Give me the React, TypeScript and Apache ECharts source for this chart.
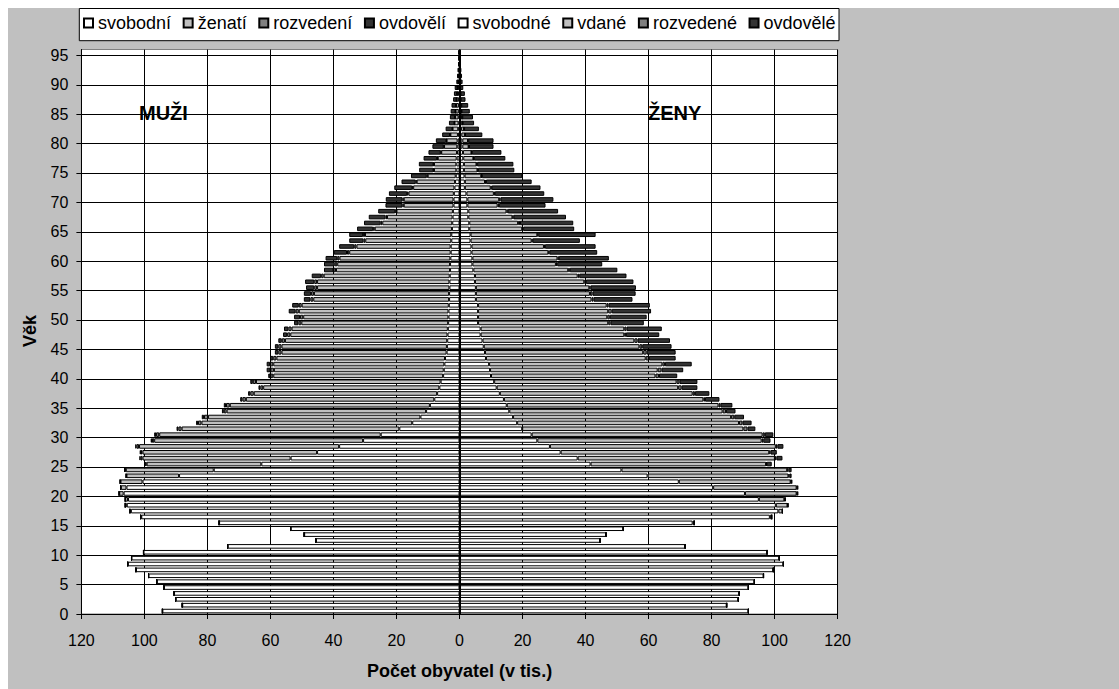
import React, { useEffect, useRef } from "react";
import * as echarts from "echarts";

// ---- categories (age 0..95) ----
const ages: string[] = Array.from({ length: 96 }, (_, i) => String(i));

// ---- legend names ----
const seriesNames = ["svobodní", "ženatí", "rozvedení", "ovdovělí", "svobodné", "vdané", "rozvedené", "ovdovělé"];

// ---- MEN (thousands), index = age ----
const menSingle = [
  94.3, 88.0, 90.1, 90.6, 93.8, 96.1, 98.7, 102.7, 105.3, 104.1,
  100.3, 73.6, 45.6, 49.3, 53.6, 76.3, 101.0, 104.3, 105.6, 105.2,
  106.6, 105.7, 100.6, 89.0, 78.0, 62.9, 53.6, 45.2, 38.2, 30.6,
  25.0, 19.1, 15.0, 12.4, 10.6, 9.4, 8.0, 7.1, 6.4, 6.0,
  5.2, 5.0, 4.8, 4.6, 4.1, 4.0, 3.9, 3.8, 3.7, 3.6,
  3.5, 3.5, 3.4, 3.3, 3.3, 3.2, 3.2, 3.1, 3.0, 3.0,
  2.9, 2.8, 2.8, 2.6, 2.6, 2.4, 2.3, 2.2, 2.1, 1.9,
  1.9, 1.8, 1.6, 1.4, 1.2, 1.0, 1.0, 0.9, 0.8, 0.7,
  0.6, 0.5, 0.4, 0.3, 0.3, 0.25, 0.2, 0.2, 0.15, 0.1,
  0.1, 0.08, 0.06, 0.04, 0.03, 0.03,
];
const menMarried = [
  0, 0, 0, 0, 0, 0, 0, 0, 0, 0,
  0, 0, 0, 0, 0, 0, 0.2, 0.3, 0.5, 0.9,
  1.4, 1.8, 7.0, 16.7, 27.9, 36.4, 47.0, 55.4, 63.5, 66.3,
  70.3, 69.1, 66.9, 67.4, 63.3, 63.5, 59.8, 58.2, 55.9, 58.6,
  53.9, 53.9, 54.3, 53.5, 52.4, 52.5, 51.5, 49.9, 49.6, 46.6,
  46.1, 47.5, 46.7, 43.1, 42.9, 42.0, 42.0, 40.0, 36.2, 35.8,
  35.2, 32.2, 29.9, 27.3, 27.4, 24.5, 22.2, 20.8, 17.9, 15.8,
  15.8, 14.4, 13.1, 12.2, 8.9, 7.1, 7.1, 6.0, 5.0, 4.2,
  3.5, 2.4, 1.8, 1.3, 1.1, 1.0, 0.9, 0.7, 0.6, 0.5,
  0.3, 0.2, 0.15, 0.1, 0.07, 0.07,
];
const menDivorced = [
  0, 0, 0, 0, 0, 0, 0, 0, 0, 0,
  0, 0, 0, 0, 0, 0, 0, 0, 0, 0,
  0.05, 0.05, 0.1, 0.1, 0.3, 0.4, 0.6, 0.5, 0.8, 0.7,
  1.0, 1.0, 1.1, 1.3, 0.9, 1.2, 1.1, 1.1, 0.9, 1.0,
  0.9, 1.1, 1.0, 1.0, 1.0, 1.0, 1.0, 1.0, 1.0, 0.9,
  1.0, 1.0, 0.9, 0.9, 0.9, 0.9, 0.9, 0.8, 0.8, 0.8,
  0.7, 0.7, 0.7, 0.6, 0.6, 0.5, 0.5, 0.5, 0.4, 0.4,
  0.4, 0.4, 0.3, 0.3, 0.3, 0.2, 0.2, 0.2, 0.15, 0.1,
  0.1, 0.1, 0.1, 0.05, 0.05, 0.05, 0.03, 0.03, 0.02, 0.02,
  0.01, 0, 0, 0, 0, 0,
];
const menWidowed = [
  0, 0, 0, 0, 0, 0, 0, 0, 0, 0,
  0, 0, 0, 0, 0, 0, 0, 0, 0, 0,
  0.05, 0.05, 0.1, 0.1, 0.2, 0.2, 0.4, 0.4, 0.4, 0.4,
  0.6, 0.6, 0.6, 0.7, 0.6, 0.7, 0.7, 0.7, 0.6, 0.8,
  0.7, 1.2, 1.1, 1.0, 1.1, 1.1, 1.1, 1.3, 1.4, 1.4,
  1.9, 2.2, 2.1, 2.1, 2.3, 2.6, 2.9, 3.0, 3.0, 3.4,
  3.7, 4.2, 4.8, 4.5, 4.4, 5.1, 5.3, 5.3, 5.4, 5.4,
  5.3, 5.8, 5.7, 4.5, 5.0, 4.5, 4.6, 4.3, 3.9, 3.6,
  3.3, 2.5, 2.1, 1.7, 1.6, 1.5, 1.4, 1.1, 1.0, 0.9,
  0.6, 0.5, 0.4, 0.25, 0.2, 0.2,
];

// ---- WOMEN (thousands), index = age ----
const womenSingle = [
  91.7, 84.8, 88.5, 88.8, 91.7, 93.6, 96.5, 99.6, 102.8, 101.5,
  97.6, 71.6, 44.6, 46.5, 52.0, 74.0, 98.5, 101.2, 100.4, 95.0,
  90.6, 80.5, 69.6, 59.7, 51.4, 41.6, 37.5, 32.1, 28.7, 24.7,
  22.9, 19.9, 18.3, 17.0, 15.8, 15.0, 14.1, 12.8, 11.8, 11.0,
  10.0, 9.7, 9.4, 8.4, 8.1, 7.7, 7.3, 6.7, 6.7, 5.9,
  5.9, 5.9, 5.9, 5.2, 5.2, 5.2, 4.9, 4.9, 4.4, 4.1,
  4.1, 3.8, 3.8, 3.5, 3.5, 3.1, 3.1, 2.8, 2.8, 2.5,
  2.5, 2.2, 1.7, 1.7, 1.6, 1.4, 1.4, 1.2, 1.1, 0.9,
  0.9, 0.6, 0.5, 0.4, 0.35, 0.3, 0.25, 0.2, 0.15, 0.1,
  0.1, 0.08, 0.06, 0.04, 0.03, 0.03,
];
const womenMarried = [
  0, 0, 0, 0, 0, 0, 0, 0, 0, 0,
  0, 0, 0, 0, 0, 0.5, 0.6, 1.3, 3.7, 8.1,
  16.4, 26.5, 35.5, 44.7, 52.6, 55.7, 62.6, 66.2, 71.7, 71.2,
  73.3, 70.2, 70.4, 69.2, 67.7, 67.2, 63.3, 61.2, 57.6, 57.9,
  52.2, 53.2, 55.0, 50.7, 50.2, 49.4, 48.2, 45.6, 45.6, 41.3,
  41.0, 41.3, 40.8, 36.7, 36.2, 36.0, 34.7, 32.6, 30.1, 26.5,
  27.0, 24.4, 23.0, 19.4, 21.2, 16.8, 15.5, 14.0, 12.1, 9.6,
  10.1, 8.7, 8.2, 6.4, 5.3, 4.3, 4.0, 3.2, 2.7, 2.0,
  1.8, 1.1, 0.9, 0.6, 0.5, 0.35, 0.3, 0.2, 0.15, 0.1,
  0.08, 0.05, 0.04, 0.03, 0.02, 0.02,
];
const womenDivorced = [
  0, 0, 0, 0, 0, 0, 0, 0, 0, 0,
  0, 0, 0, 0, 0, 0, 0, 0, 0.1, 0.2,
  0.2, 0.2, 0.2, 0.3, 0.4, 0.2, 0.5, 0.4, 0.5, 0.5,
  0.7, 1.3, 1.1, 1.0, 1.1, 0.6, 0.5, 0.7, 1.1, 0.9,
  1.1, 1.2, 0.8, 1.0, 1.1, 0.9, 1.0, 0.5, 0.7, 0.7,
  0.8, 1.1, 0.6, 0.6, 0.8, 0.4, 0.5, 0.5, 0.5, 0.4,
  0.4, 0.3, 0.3, 0.3, 0.3, 0.3, 0.6, 0.3, 0.4, 0.4,
  0.4, 0.3, 0.3, 0.3, 0.2, 0.2, 0.2, 0.15, 0.1, 0.1,
  0.1, 0.05, 0.05, 0.03, 0.03, 0.02, 0.01, 0, 0, 0,
  0, 0, 0, 0, 0, 0,
];
const womenWidowed = [
  0, 0, 0, 0, 0, 0, 0, 0, 0, 0,
  0, 0, 0, 0, 0, 0, 0, 0, 0.2, 0.3,
  0.3, 0.3, 0.3, 0.7, 1.0, 1.6, 1.9, 2.0, 1.9, 2.3,
  2.7, 2.5, 2.9, 3.1, 3.0, 3.8, 4.6, 4.6, 5.0, 5.7,
  5.8, 6.9, 8.5, 8.5, 9.2, 9.3, 10.3, 10.6, 11.2, 10.6,
  11.7, 12.5, 13.1, 12.4, 13.7, 14.4, 15.1, 15.0, 15.1, 14.3,
  15.9, 15.2, 16.1, 15.0, 18.2, 16.2, 16.9, 16.7, 16.0, 14.8,
  16.8, 15.7, 15.5, 14.5, 12.8, 11.5, 11.5, 10.0, 9.4, 7.8,
  8.0, 5.5, 4.7, 3.6, 3.4, 2.6, 2.2, 1.5, 1.4, 1.0,
  0.8, 0.67, 0.5, 0.33, 0.25, 0.25,
];

const colors = ["#ffffff", "#c0c0c0", "#808080", "#333333"];
const FONT = "'Liberation Sans', Arial, Helvetica, sans-serif";

export default function App() {
  const ref = useRef<HTMLDivElement>(null);

  useEffect(() => {
    if (!ref.current) return;
    const chart = echarts.init(ref.current, undefined, { renderer: "svg" });

    const bar = (name: string, data: number[], color: string, stack: string, neg: boolean, extra?: any) => ({
      name,
      type: "bar",
      stack,
      xAxisIndex: 0,
      yAxisIndex: 0,
      data: neg ? data.map((v) => -v) : data,
      barCategoryGap: "22%",
      barGap: "-100%",
      itemStyle: { color, borderColor: "#000", borderWidth: 1 },
      emphasis: { disabled: true },
      silent: true,
      ...(extra || {}),
    });

    const option: any = {
      animation: false,
      backgroundColor: "#c0c0c0",
      textStyle: { fontFamily: FONT },
      legend: {
        data: seriesNames,
        left: 75,
        top: 6,
        padding: 0,
        itemWidth: 9,
        itemHeight: 9,
        itemGap: 11.6,
        icon: "rect",
        selectedMode: false,
        textStyle: { fontSize: 18, fontFamily: FONT, color: "#000" },
      },
      grid: {
        left: 73.4,
        top: 41.5,
        width: 756.2,
        height: 564.5,
        show: true,
        backgroundColor: "#ffffff",
        borderColor: "#808080",
        borderWidth: 1,
        containLabel: false,
      },
      xAxis: [
        {
          type: "value",
          min: -120,
          max: 120,
          interval: 20,
          axisLine: { show: true, onZero: false, lineStyle: { color: "#000", width: 1 } },
          axisTick: { show: true, length: 5, lineStyle: { color: "#000" } },
          axisLabel: {
            margin: 18,
            fontSize: 16,
            fontFamily: FONT,
            color: "#000",
            formatter: (v: number) => String(Math.abs(v)),
          },
          splitLine: { show: true, lineStyle: { color: "#000", width: 1 } },
        },
      ],
      yAxis: [
        {
          type: "category",
          data: ages,
          show: false,
          gridIndex: 0,
        },
        {
          type: "value",
          min: 0,
          max: 96,
          interval: 5,
          position: "left",
          gridIndex: 0,
          axisLine: { show: true, onZero: false, lineStyle: { color: "#000", width: 1 } },
          axisTick: { show: true, length: 5, lineStyle: { color: "#000" } },
          axisLabel: {
            margin: 13,
            showMaxLabel: false,
            fontSize: 16,
            fontFamily: FONT,
            color: "#000",
          },
          splitLine: { show: true, showMaxLine: false, lineStyle: { color: "#000", width: 1 } },
        },
      ],
      graphic: [
        {
          type: "rect",
          z: 0,
          shape: { x: 71.3, y: 0.5, width: 759.7, height: 32.2 },
          style: { fill: "#ffffff", stroke: "#000", lineWidth: 1 },
          silent: true,
        },
        {
          type: "text",
          x: 22,
          y: 323,
          rotation: Math.PI / 2,
          style: { text: "Věk", font: `bold 18px ${FONT}`, fill: "#000", align: "center", verticalAlign: "middle" },
          silent: true,
        },
        {
          type: "text",
          x: 451.6,
          y: 663,
          style: {
            text: "Počet obyvatel (v tis.)",
            font: `bold 18px ${FONT}`,
            fill: "#000",
            align: "center",
            verticalAlign: "middle",
          },
          silent: true,
        },
        {
          type: "text",
          x: 131,
          y: 105,
          z: 10,
          style: { text: "MUŽI", font: `bold 20px ${FONT}`, fill: "#000", align: "left", verticalAlign: "middle" },
          silent: true,
        },
        {
          type: "text",
          x: 640,
          y: 105,
          z: 10,
          style: { text: "ŽENY", font: `bold 20px ${FONT}`, fill: "#000", align: "left", verticalAlign: "middle" },
          silent: true,
        },
      ],
      series: [
        bar(seriesNames[0], menSingle, colors[0], "men", true),
        bar(seriesNames[1], menMarried, colors[1], "men", true),
        bar(seriesNames[2], menDivorced, colors[2], "men", true),
        bar(seriesNames[3], menWidowed, colors[3], "men", true),
        bar(seriesNames[4], womenSingle, colors[0], "women", false, {
          markLine: {
            silent: true,
            symbol: ["none", "none"],
            label: { show: false },
            lineStyle: { color: "#000", width: 2, type: "solid" },
            data: [{ xAxis: 0 }],
          },
        }),
        bar(seriesNames[5], womenMarried, colors[1], "women", false),
        bar(seriesNames[6], womenDivorced, colors[2], "women", false),
        bar(seriesNames[7], womenWidowed, colors[3], "women", false),
      ],
    };

    chart.setOption(option);
    return () => chart.dispose();
  }, []);

  return (
    <div
      ref={ref}
      style={{ position: "fixed", left: 8, top: 8, width: 1111, height: 681 }}
    />
  );
}
